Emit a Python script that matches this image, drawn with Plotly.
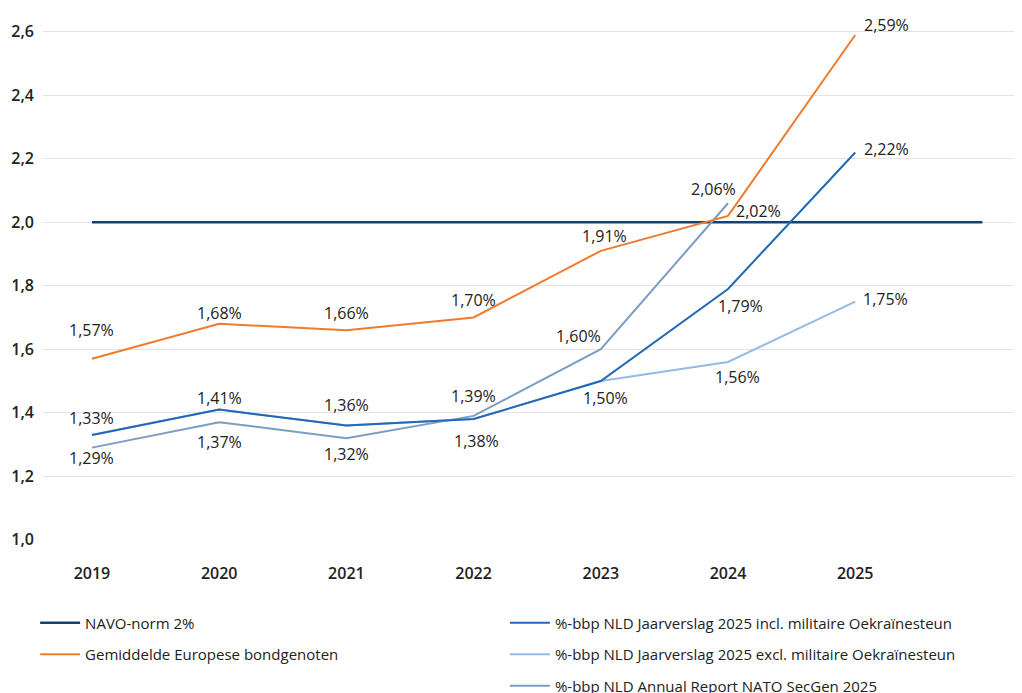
import plotly.graph_objects as go

# ---- data ----
years = [2019, 2020, 2021, 2022, 2023, 2024, 2025]
navo_years = [2019, 2020, 2021, 2022, 2023, 2024, 2025, 2026]
navo_norm = [2.0, 2.0, 2.0, 2.0, 2.0, 2.0, 2.0, 2.0]
europe_avg = [1.57, 1.68, 1.66, 1.70, 1.91, 2.02, 2.59]
nld_incl = [1.33, 1.41, 1.36, 1.38, 1.50, 1.79, 2.22]
nld_excl = [1.33, 1.41, 1.36, 1.38, 1.50, 1.56, 1.75]
nld_nato = [1.29, 1.37, 1.32, 1.39, 1.60, 2.06, None]
y_ticks = [1.0, 1.2, 1.4, 1.6, 1.8, 2.0, 2.2, 2.4, 2.6]

# which points get a value label in the picture
show_europe = [1, 1, 1, 1, 1, 1, 1]
show_incl = [1, 1, 1, 1, 1, 1, 1]
show_excl = [0, 0, 0, 0, 0, 1, 1]
show_nato = [1, 1, 1, 1, 1, 1, 0]

# ---- style ----
C_NAVO = "#154273"
C_EUR = "#f07b2e"
C_INCL = "#2368b8"
C_EXCL = "#95bbe5"
C_NATO = "#7d9cc2"
FONT = "Open Sans"
TXT = "#222222"

# label pixel offsets (xshift, yshift)
off_europe = [(0, 29), (0, 11), (0, 17), (0, 18), (4, 15), (30, 5), (31, 10)]
off_incl = [(0, 17), (0, 12), (0, 20), (3, -22), (5, -17), (12, -17), (31, 3)]
off_excl = [(0, 0), (0, 0), (0, 0), (0, 0), (0, 0), (9, -15), (30, 3)]
off_nato = [(0, -10), (0, -20), (0, -16), (0, 20), (-22, 13), (-15, 14), (0, 0)]

fig = go.Figure()

fig.add_trace(go.Scatter(x=navo_years, y=navo_norm, mode="lines", name="NAVO-norm 2%",
                         line=dict(color=C_NAVO, width=2.5), legend="legend",
                         legendgroup="a", legendrank=1))
fig.add_trace(go.Scatter(x=years, y=nld_nato, mode="lines",
                         name="%-bbp NLD Annual Report NATO SecGen 2025",
                         line=dict(color=C_NATO, width=2), legend="legend2",
                         legendgroup="e", legendrank=5))
fig.add_trace(go.Scatter(x=years, y=nld_excl, mode="lines",
                         name="%-bbp NLD Jaarverslag 2025 excl. militaire Oekraïnesteun",
                         line=dict(color=C_EXCL, width=2), legend="legend2",
                         legendgroup="d", legendrank=4))
fig.add_trace(go.Scatter(x=years, y=nld_incl, mode="lines",
                         name="%-bbp NLD Jaarverslag 2025 incl. militaire Oekraïnesteun",
                         line=dict(color=C_INCL, width=2), legend="legend2",
                         legendgroup="c", legendrank=3))
fig.add_trace(go.Scatter(x=years, y=europe_avg, mode="lines",
                         name="Gemiddelde Europese bondgenoten",
                         line=dict(color=C_EUR, width=2), legend="legend",
                         legendgroup="b", legendrank=2))


def fmt(v):
    return f"{v:.2f}".replace(".", ",") + "%"


for vals, shows, offs in [(europe_avg, show_europe, off_europe),
                          (nld_incl, show_incl, off_incl),
                          (nld_excl, show_excl, off_excl),
                          (nld_nato, show_nato, off_nato)]:
    for x, v, s, (dx, dy) in zip(years, vals, shows, offs):
        if s and v is not None:
            fig.add_annotation(x=x, y=v, xref="x", yref="y", text=fmt(v),
                               showarrow=False, xshift=dx, yshift=dy,
                               font=dict(family=FONT, size=16, color=TXT))

fig.update_layout(
    width=1022, height=693,
    margin=dict(l=35, r=0, t=8, b=161, autoexpand=False),
    paper_bgcolor="white", plot_bgcolor="white",
    separators=",.",
    font=dict(family=FONT, size=16, color=TXT),
    legend=dict(x=-0.008, y=-0.127, xanchor="left", yanchor="top",
                tracegroupgap=9, traceorder="grouped", itemwidth=40,
                font=dict(family=FONT, size=15, color=TXT), bgcolor="rgba(0,0,0,0)"),
    legend2=dict(x=0.468, y=-0.127, xanchor="left", yanchor="top",
                 tracegroupgap=9, traceorder="grouped", itemwidth=40,
                 font=dict(family=FONT, size=15, color=TXT), bgcolor="rgba(0,0,0,0)"),
    showlegend=True,
)

fig.update_xaxes(range=[2018.615, 2026.374], tickvals=years,
                 ticktext=[str(y) for y in years], showgrid=False, zeroline=False,
                 showline=False, ticks="", ticklabelstandoff=22,
                 tickfont=dict(family=FONT, size=16, color=TXT, weight=600))
fig.update_yaxes(range=[0.999, 2.65], tickvals=y_ticks,
                 ticktext=[f"{v:.1f}".replace(".", ",") for v in y_ticks],
                 showgrid=True, gridcolor="#e3e3e3", gridwidth=1, zeroline=False,
                 showline=False, ticks="", ticklabelstandoff=8,
                 tickfont=dict(family=FONT, size=16, color=TXT, weight=600))

fig.write_html("out.html")
